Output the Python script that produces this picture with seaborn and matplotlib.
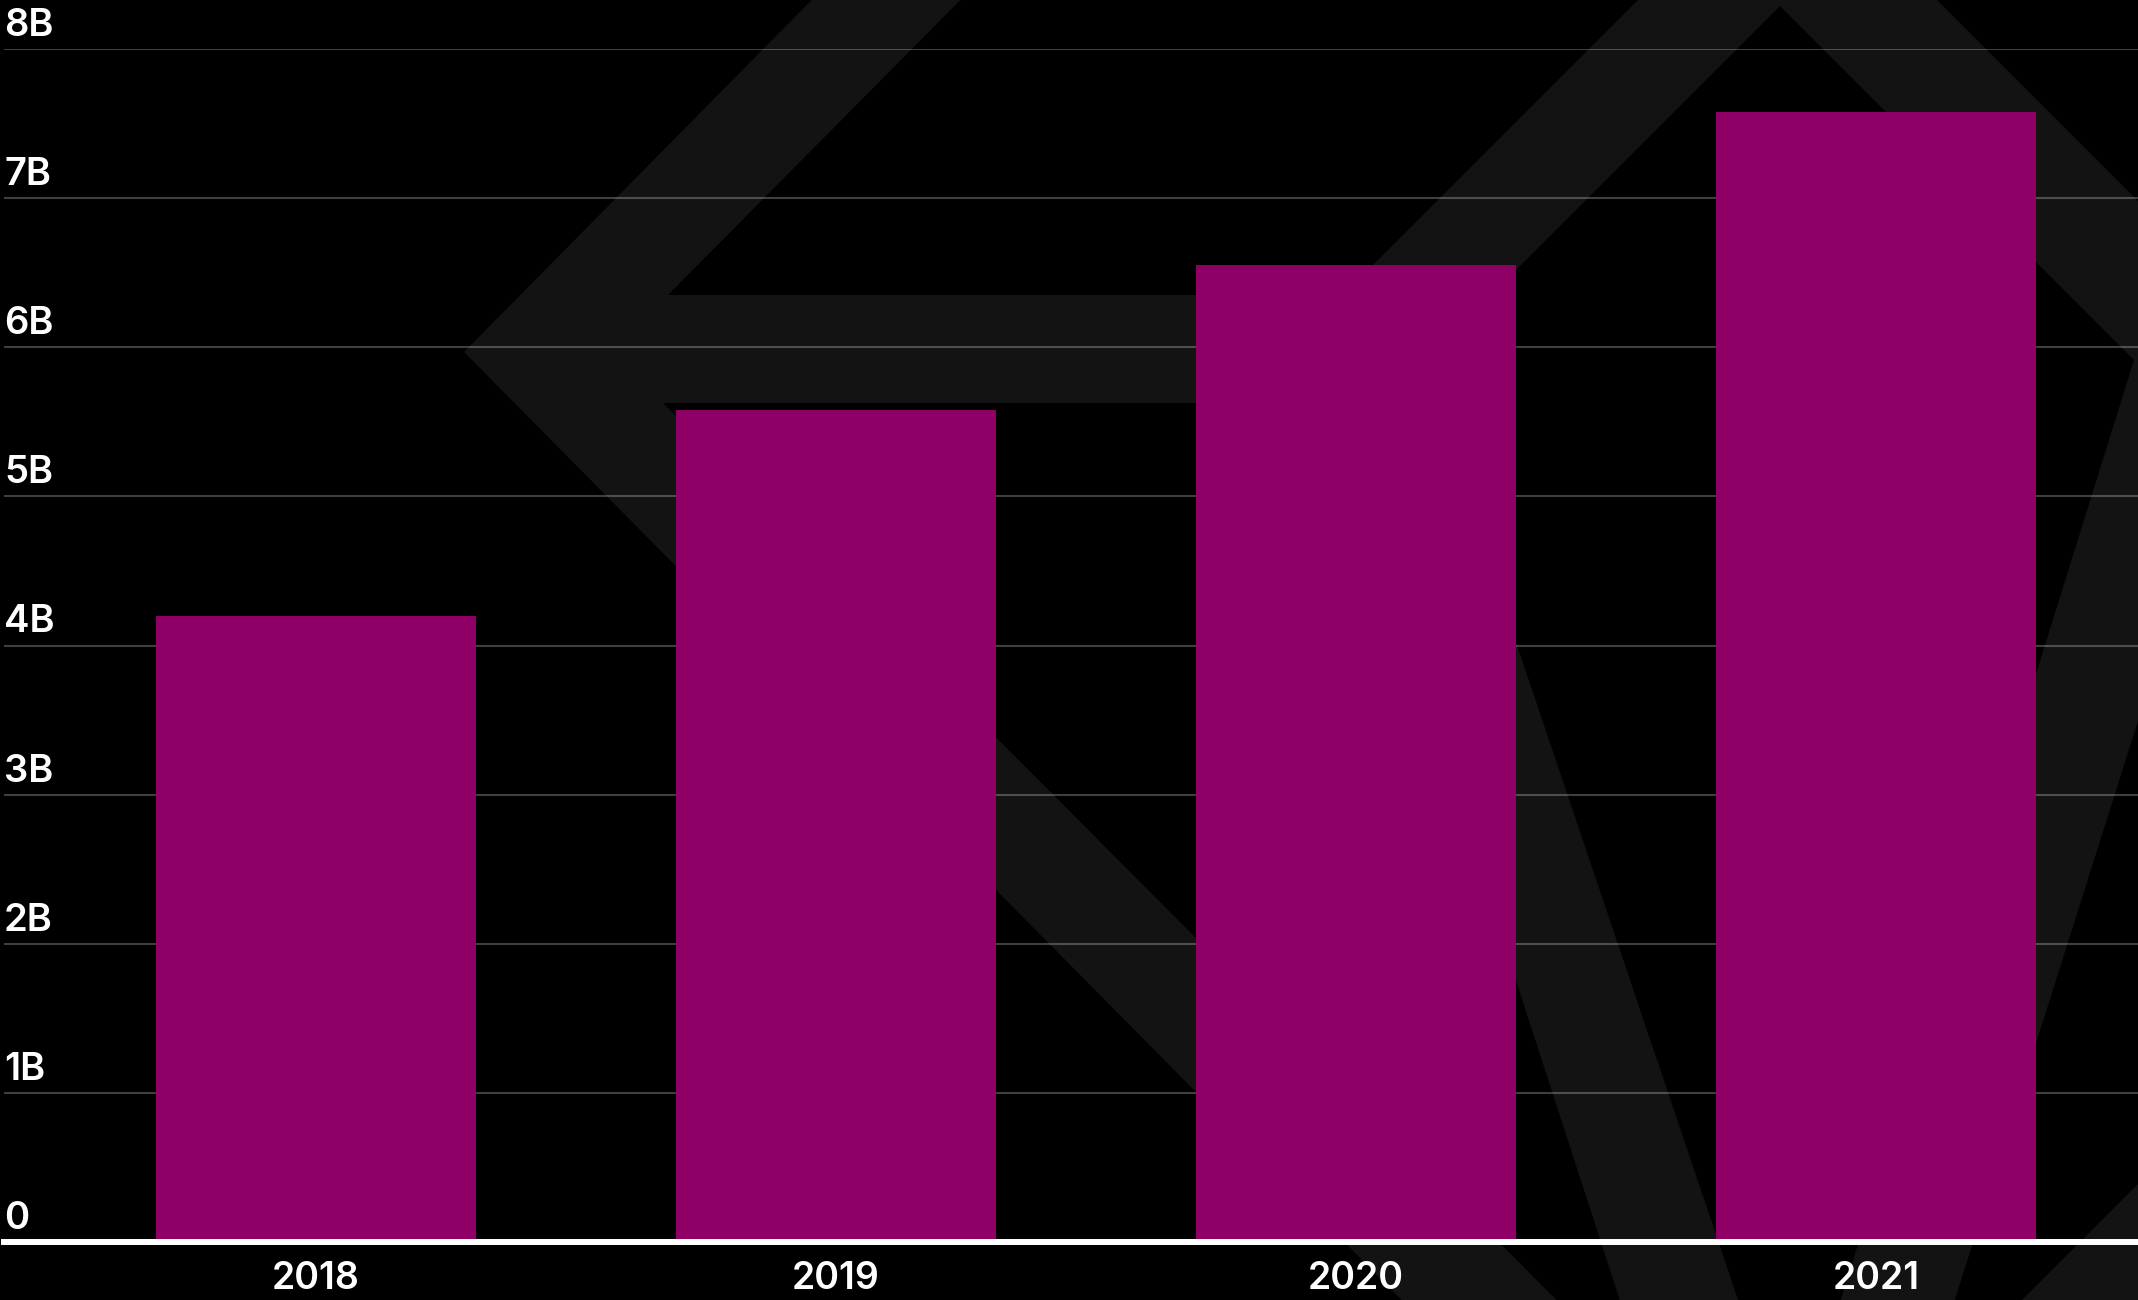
import matplotlib
matplotlib.use("Agg")
import matplotlib.pyplot as plt
import matplotlib.transforms as mtransforms
from matplotlib.patches import Polygon
import seaborn as sns
import pandas as pd

years = ["2018", "2019", "2020", "2021"]
values_b = [4.2, 5.58, 6.55, 7.58]
y_ticks = [0, 1, 2, 3, 4, 5, 6, 7, 8]
y_tick_labels = ["0", "1B", "2B", "3B", "4B", "5B", "6B", "7B", "8B"]

BG = "#000000"
BAR = "#8f0066"
DECO = "#131313"
W, H = 2138, 1300

sns.set_theme(style="dark")
plt.rcParams["font.family"] = ["Inter", "DejaVu Sans"]

df = pd.DataFrame({"year": years, "value": values_b})

fig = plt.figure(figsize=(W / 100, H / 100), dpi=100, facecolor=BG)


def deco(points):
    pts = [(x / W, 1 - y / H) for x, y in points]
    fig.add_artist(Polygon(pts, closed=True, transform=fig.transFigure,
                           facecolor=DECO, edgecolor="none", zorder=-5))


# faint background logo shapes (pixel outlines, decorative only)
deco([(861, -50), (464, 352), (1550, 1450), (1706, 1450), (663, 403),
      (1300, 403), (1300, 295), (668, 295), (1010, -50)])
deco([(1688, -50), (1230, 408), (1330, 408), (1636, 1350), (1755, 1350),
      (1468, 500), (1486, 300), (1780, 6), (2134, 360), (1825, 1350),
      (1939, 1350), (2263, 326), (1887, -50)])
deco([(2022, 1300), (2200, 1122), (2300, 1400), (1922, 1400)])

ax = fig.add_axes([4 / W, 58 / H, 2134 / W, 1193 / H])
ax.set_facecolor("none")

sns.barplot(data=df, x="year", y="value", color=BAR, saturation=1,
            width=0.617, ax=ax, zorder=3, linewidth=0)

ax.set_xlim(-0.6, 3.504)
ax.set_ylim(0, 8)
ax.set_yticks(y_ticks)
ax.set_yticklabels(y_tick_labels)
ax.set_xlabel("")
ax.set_ylabel("")

for s in ["left", "right", "top"]:
    ax.spines[s].set_visible(False)
ax.spines["bottom"].set_color("white")
ax.spines["bottom"].set_linewidth(4.3)
ax.spines["bottom"].set_zorder(4)

ax.grid(axis="y", color="white", alpha=0.25, linewidth=1.5, zorder=1)
ax.grid(axis="x", visible=False)

ax.tick_params(axis="x", length=0, pad=14, labelsize=27, labelcolor="white")
ax.tick_params(axis="y", length=0, pad=0, labelsize=27.5, labelcolor="white")
for lab in ax.get_xticklabels():
    lab.set_fontweight("semibold")
offset = mtransforms.ScaledTranslation(0, 5 / 100, fig.dpi_scale_trans)
for lab in ax.get_yticklabels():
    lab.set_horizontalalignment("left")
    lab.set_verticalalignment("bottom")
    lab.set_fontweight("semibold")
    lab.set_transform(lab.get_transform() + offset)

fig.savefig("out.png", dpi=100, facecolor=BG)
